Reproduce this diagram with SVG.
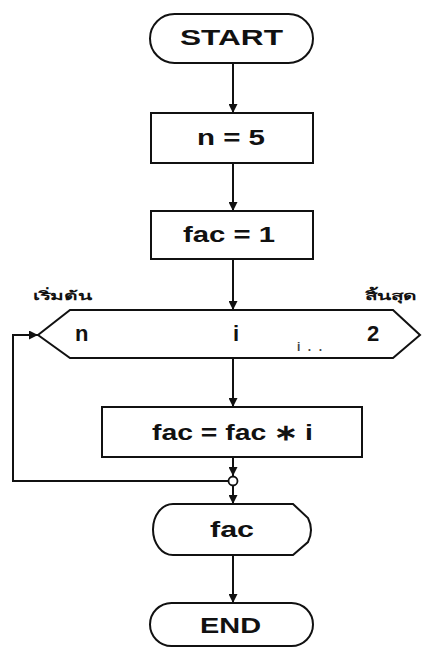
<svg xmlns="http://www.w3.org/2000/svg" width="422" height="648" viewBox="0 0 422 648">
  <defs>
    <marker id="arrow" viewBox="0 0 10 10" refX="10" refY="5" markerWidth="9" markerHeight="9" markerUnits="userSpaceOnUse" orient="auto">
      <path d="M0,0 L10,5 L0,10 Z" fill="#111"/>
    </marker>
    <style>
      .shape { fill: #fff; stroke: #111; stroke-width: 2; }
      .line { fill: none; stroke: #111; stroke-width: 2; }
      .label { font-family: "Liberation Sans", Arial, sans-serif; font-weight: bold; font-size: 22px; fill: #111; }
      .thai { font-family: "Noto Sans", "DejaVu Sans", sans-serif; font-weight: bold; font-size: 12px; fill: #111; }
      .small { font-family: "Liberation Sans", Arial, sans-serif; font-weight: bold; font-size: 12px; fill: #444; }
    </style>
  </defs>
  <rect width="422" height="648" fill="#fff"/>

  <!-- connectors -->
  <g id="connectors">
    <line class="line" x1="233" y1="63" x2="233" y2="113" marker-end="url(#arrow)"/>
    <line class="line" x1="233" y1="163" x2="233" y2="211" marker-end="url(#arrow)"/>
    <line class="line" x1="233" y1="259" x2="233" y2="310" marker-end="url(#arrow)"/>
    <line class="line" x1="233" y1="358" x2="233" y2="407" marker-end="url(#arrow)"/>
    <line class="line" x1="233" y1="457" x2="233" y2="476" marker-end="url(#arrow)"/>
    <line class="line" x1="233" y1="486" x2="233" y2="504" marker-end="url(#arrow)"/>
    <line class="line" x1="233" y1="555" x2="233" y2="603" marker-end="url(#arrow)"/>
    <!-- loop back to the for-loop header -->
    <path class="line" d="M228,481 H13 V335 H38" marker-end="url(#arrow)"/>
    <circle id="junction" cx="233" cy="481" r="4.5" fill="#fff" stroke="#111" stroke-width="1.8"/>
  </g>

  <g id="start">
    <rect class="shape" x="150" y="14" width="163" height="49" rx="24.5"/>
    <text class="label" x="180" y="45" textLength="103" lengthAdjust="spacingAndGlyphs">START</text>
  </g>

  <g id="set-n">
    <rect class="shape" x="151" y="113" width="162" height="50"/>
    <text class="label" x="197" y="145" textLength="68" lengthAdjust="spacingAndGlyphs">n = 5</text>
  </g>

  <g id="set-fac">
    <rect class="shape" x="151" y="211" width="162" height="48"/>
    <text class="label" x="183" y="242" textLength="92" lengthAdjust="spacingAndGlyphs">fac = 1</text>
  </g>

  <g id="loop">
    <polygon class="shape" points="38,335 70,310 393,310 420,335 393,358 70,358"/>
    <text class="thai" x="33" y="300" textLength="59" lengthAdjust="spacingAndGlyphs">เริ่มต้น</text>
    <text class="thai" x="365" y="300" textLength="52" lengthAdjust="spacingAndGlyphs">สิ้นสุด</text>
    <text class="label" x="75" y="341">n</text>
    <text class="label" x="233" y="341">i</text>
    <text class="label" x="367" y="341">2</text>
    <text class="small" x="297" y="351" textLength="25" lengthAdjust="spacing">i..</text>
  </g>

  <g id="multiply">
    <rect class="shape" x="102" y="407" width="260" height="50"/>
    <text class="label" x="152" y="440" textLength="161" lengthAdjust="spacingAndGlyphs">fac = fac ∗ i</text>
  </g>

  <g id="display">
    <path class="shape" d="M173,504 H293 L308,518 Q314,530 308,542 L293,555 H173 A20,25.5 0 0 1 173,504 Z"/>
    <text class="label" x="210" y="537" textLength="44" lengthAdjust="spacingAndGlyphs">fac</text>
  </g>

  <g id="end">
    <rect class="shape" x="150" y="603" width="163" height="43" rx="21.5"/>
    <text class="label" x="200" y="633" textLength="61" lengthAdjust="spacingAndGlyphs">END</text>
  </g>
</svg>
